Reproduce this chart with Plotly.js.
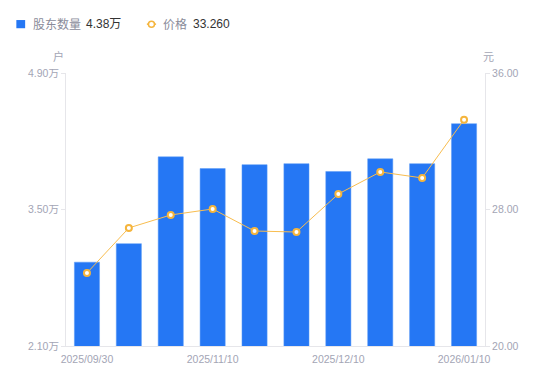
<!DOCTYPE html>
<html>
<head>
<meta charset="utf-8">
<script src="https://cdn.plot.ly/plotly-3.0.1.min.js"></script>
<style>html,body{margin:0;padding:0;background:#fff;}#chart{width:550px;height:381px;}</style>
</head>
<body>
<div id="chart"></div>
<script>
const dates = ["2025/09/30","2025/10/20","2025/10/31","2025/11/10","2025/11/20","2025/11/28","2025/12/10","2025/12/19","2025/12/31","2026/01/10"];
const holders = [2.96, 3.15, 4.04, 3.92, 3.96, 3.97, 3.89, 4.02, 3.97, 4.38];
const prices = [24.28, 26.92, 27.68, 28.03, 26.74, 26.68, 28.91, 30.20, 29.85, 33.26];
const xTicks = ["2025/09/30","2025/11/10","2025/12/10","2026/01/10"];
const leftTicks = [2.10, 3.50, 4.90];
const rightTicks = [20, 28, 36];

const gray = "#a3a5b5";
const fontFam = "'Liberation Sans', Arial, 'Noto Sans CJK SC', sans-serif";
const LY = 1.179;

const traces = [
  {
    type: "bar", x: dates, y: holders, yaxis: "y", width: 0.6,
    marker: {color: "#2577f4", line: {color: "#5b9af7", width: 0.5}},
    hoverinfo: "skip", showlegend: false
  },
  {
    type: "scatter", mode: "lines+markers", x: dates, y: prices, yaxis: "y2",
    line: {color: "#f8bd4f", width: 1},
    marker: {symbol: "circle", size: 6, color: "#ffffff", line: {color: "#f5b53d", width: 2}},
    hoverinfo: "skip", showlegend: false
  }
];

const layout = {
  width: 550, height: 381,
  margin: {l: 66, r: 65, t: 73, b: 35},
  paper_bgcolor: "#fff", plot_bgcolor: "#fff",
  font: {family: fontFam, color: gray, size: 11},
  showlegend: false,
  xaxis: {
    type: "category", tickvals: xTicks, ticktext: xTicks,
    showline: true, linecolor: "#e6e6ea", linewidth: 1,
    ticks: "", showgrid: false, zeroline: false, ticklabelstandoff: 3,
    tickfont: {size: 10.5, color: gray}, range: [-0.5, 9.5], fixedrange: true
  },
  yaxis: {
    range: [2.10, 4.90], tickvals: leftTicks,
    ticktext: leftTicks.map(v => v.toFixed(2) + "万"),
    showline: true, linecolor: "#e6e6ea", linewidth: 1,
    ticks: "outside", ticklen: 4, tickcolor: "#e6e6ea",
    showgrid: false, zeroline: false, tickfont: {size: 10.5, color: gray}
  },
  yaxis2: {
    overlaying: "y", side: "right",
    range: [20, 36], tickvals: rightTicks,
    ticktext: rightTicks.map(v => v.toFixed(2)),
    showline: true, linecolor: "#e6e6ea", linewidth: 1,
    ticks: "outside", ticklen: 4, tickcolor: "#e6e6ea",
    showgrid: false, zeroline: false, tickfont: {size: 10.5, color: gray}
  },
  shapes: [
    {type: "rect", xref: "paper", yref: "paper", x0: -0.1185, x1: -0.0975, y0: LY + 0.015, y1: LY - 0.015,
     fillcolor: "#2577f4", line: {width: 0}},
    {type: "line", xref: "paper", yref: "paper", x0: 0.193, x1: 0.215, y0: LY, y1: LY,
     line: {color: "#f5b53d", width: 1.5}},
    {type: "circle", xref: "paper", yref: "paper", x0: 0.1968, x1: 0.2112, y0: LY + 0.011, y1: LY - 0.011,
     fillcolor: "#fff", line: {color: "#f5b53d", width: 1.5}}
  ],
  annotations: [
    {xref: "paper", yref: "paper", x: -0.084, y: LY, xanchor: "left", yanchor: "middle",
     text: "股东数量", showarrow: false, font: {size: 12, color: "#8a8c9a"}},
    {xref: "paper", yref: "paper", x: 0.044, y: LY, xanchor: "left", yanchor: "middle",
     text: "4.38万", showarrow: false, font: {size: 12, color: "#333"}},
    {xref: "paper", yref: "paper", x: 0.226, y: LY, xanchor: "left", yanchor: "middle",
     text: "价格", showarrow: false, font: {size: 12, color: "#8a8c9a"}},
    {xref: "paper", yref: "paper", x: 0.298, y: LY, xanchor: "left", yanchor: "middle",
     text: "33.260", showarrow: false, font: {size: 12, color: "#333"}},
    {xref: "paper", yref: "paper", x: -0.017, y: 1.059, xanchor: "center", yanchor: "middle",
     text: "户", showarrow: false, font: {size: 11, color: gray}},
    {xref: "paper", yref: "paper", x: 1.0095, y: 1.059, xanchor: "center", yanchor: "middle",
     text: "元", showarrow: false, font: {size: 11, color: gray}}
  ]
};

Plotly.newPlot("chart", traces, layout, {displayModeBar: false, staticPlot: true});
</script>
</body>
</html>
